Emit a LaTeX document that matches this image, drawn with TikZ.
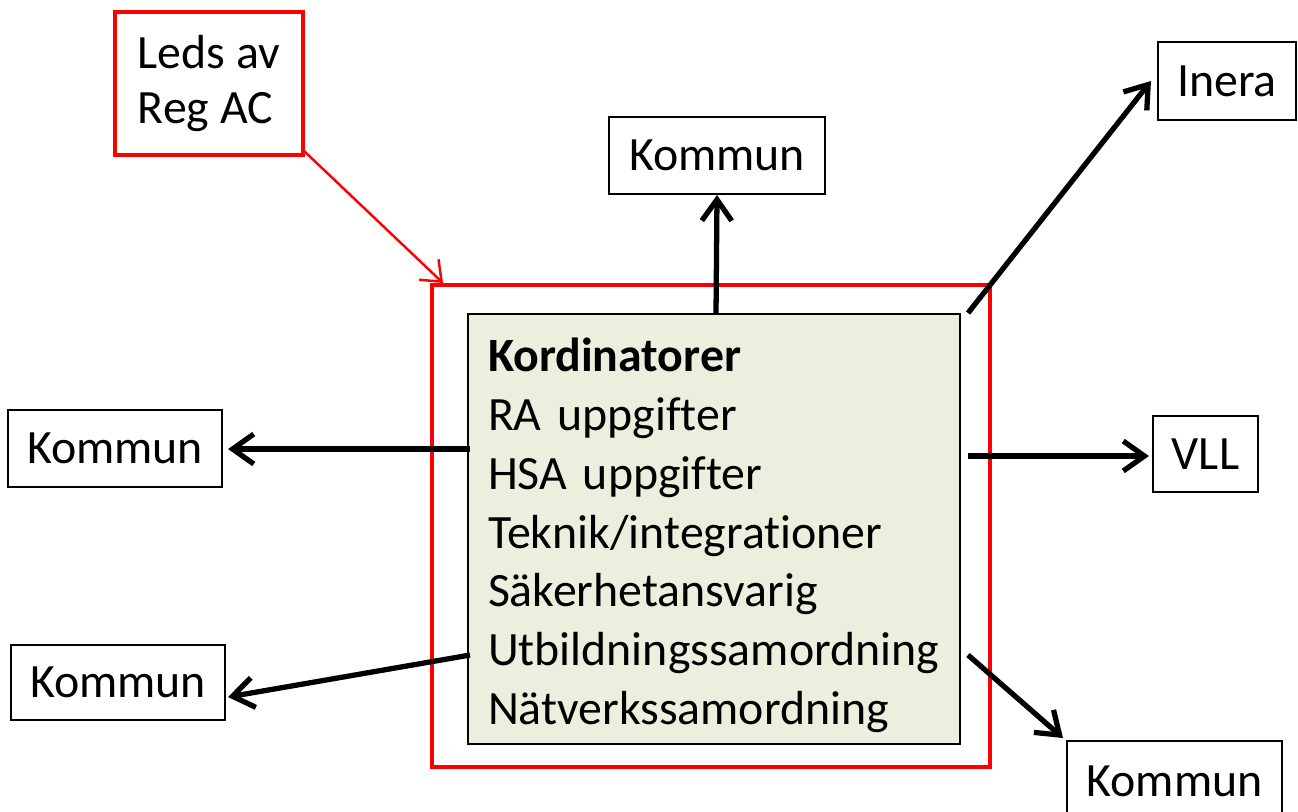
\documentclass[tikz,border=0pt]{standalone}
\usepackage{fontspec}
\setmainfont[Ligatures=NoCommon]{Carlito}
\usetikzlibrary{arrows.meta}
\definecolor{boxgreen}{RGB}{235,239,222}
\definecolor{pured}{RGB}{255,0,0}
\begin{document}
\begin{tikzpicture}[x=0.01cm,y=-0.01cm,
  font=\fontsize{13.6}{16.7}\selectfont,
  plainbox/.style={draw=black,line width=0.6pt,rectangle,inner sep=0pt,fill=white},
  redbox/.style={draw=pured,line width=1.3pt,rectangle,inner sep=0pt},
  blackarrow/.style={draw=black,line width=1.5pt,-{Straight Barb[length=6pt,width=8.5pt,line width=1.5pt]}},
  redarrow/.style={draw=pured,line width=0.7pt,-{Straight Barb[length=5pt,width=8pt,line width=0.7pt]}}]
\useasboundingbox (0,0) rectangle (1298,811);
% big red frame
\node[redbox,minimum width=558*0.01cm,minimum height=482*0.01cm] (frame) at (711,526) {};
% green box
\node[draw=black,line width=0.6pt,fill=boxgreen,inner sep=0pt,
      minimum width=492*0.01cm,minimum height=430*0.01cm,
      text width=452*0.01cm,align=left] (green) at (714,529)
  {\rule{0pt}{13.2pt}\textbf{Kordinatorer}\\RA uppgifter\\HSA uppgifter\\Teknik/integrationer\\Säkerhetansvarig\\Utbildningssamordning\\Nätverkssamordning};
% leds box
\node[redbox,fill=white,minimum width=188*0.01cm,minimum height=143*0.01cm,
      align=left,font=\fontsize{13.6}{15.9}\selectfont] (leds) at (209,83.5)
  {Leds av\\Reg AC};
% outer boxes
\node[plainbox,minimum width=216*0.01cm,minimum height=77*0.01cm] (ktop) at (717,155.5) {Kommun};
\node[plainbox,minimum width=138*0.01cm,minimum height=78*0.01cm] (inera) at (1227,81) {Inera};
\node[plainbox,minimum width=105*0.01cm,minimum height=76*0.01cm] (vll) at (1205.5,454) {VLL};
\node[plainbox,minimum width=214*0.01cm,minimum height=77*0.01cm] (kleft) at (115,448.5) {Kommun};
\node[plainbox,minimum width=214*0.01cm,minimum height=75*0.01cm] (kbl) at (118,682.5) {Kommun};
\node[plainbox,minimum width=215*0.01cm,minimum height=80*0.01cm] (kbr) at (1174.5,781) {Kommun};
% start points
\coordinate (sT) at (716,314);
\coordinate (sI) at (968,313);
\coordinate (sV) at (968,456);
\coordinate (sL) at (470,449);
\coordinate (sBL) at (470,655);
\coordinate (sBR) at (968,655);
\coordinate (ledsc) at (303,150);
\coordinate (frametl) at (443,283);
% arrows
\draw[redarrow] (ledsc) -- (frametl);
\draw[blackarrow] (sT) -- (ktop.south);
\draw[blackarrow] (sI) -- ([xshift=-0.06cm]inera.west);
\draw[blackarrow] (sV) -- ([xshift=-0.03cm]vll.west |- sV);
\draw[blackarrow] (sL) -- ([xshift=0.05cm]kleft.east |- sL);
\draw[blackarrow] (sBL) -- (228,697);
\draw[blackarrow] (sBR) -- (1063,738);
\end{tikzpicture}
\end{document}
